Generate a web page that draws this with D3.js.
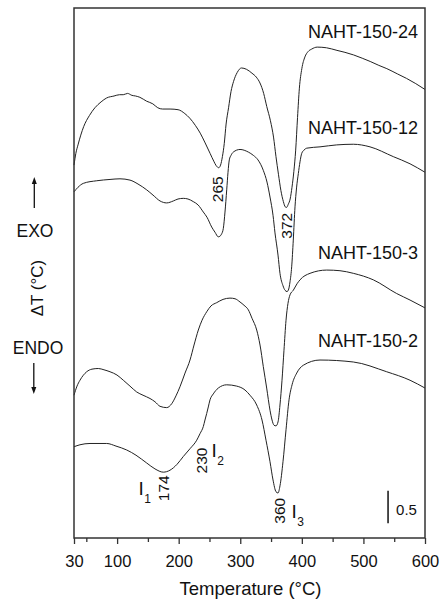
<!DOCTYPE html>
<html>
<head>
<meta charset="utf-8">
<script src="https://cdn.jsdelivr.net/npm/d3@7"></script>
<style>
  body { margin: 0; background: #fff; }
  text { font-family: "Liberation Sans", Arial, sans-serif; fill: #111; }
</style>
</head>
<body>
<div id="chart"></div>
<script>
// DTA curves, values (stacked, arbitrary offset, 1 unit = 1 °C)
const temps24 = [30,33,36.5,41,45.7,55,64,74,83,95,104,110,117,124,130,137,148,158,166,174,186,199,210,218,227,235,243,251,257,261,265,268,271,274,277,281,285,289,295,302,310,319,326,332,338,343,349,354,358,362,366,370,373,375,378,381,384,387,390,393,396,400,405,410,416,425,440,457,470,484,498,511,525,538,555,570,585,600];
const vals24  = [5.72,5.90,6.03,6.18,6.31,6.48,6.60,6.69,6.75,6.78,6.80,6.80,6.82,6.79,6.78,6.76,6.70,6.66,6.60,6.58,6.58,6.57,6.51,6.44,6.33,6.21,6.06,5.90,5.78,5.71,5.68,5.72,5.85,6.05,6.35,6.60,6.85,7.00,7.14,7.21,7.19,7.13,7.07,6.98,6.82,6.62,6.40,6.15,5.85,5.58,5.33,5.16,5.08,5.07,5.12,5.20,5.38,5.62,5.95,6.45,6.90,7.20,7.38,7.46,7.50,7.53,7.52,7.48,7.45,7.41,7.36,7.31,7.25,7.20,7.12,7.05,6.97,6.88];

const temps12 = [30,36.5,45.1,66.9,88.5,104.7,120.9,133.9,148.1,158.3,169.7,180.5,191.3,198.9,207.5,215.1,223.7,231.4,240,246,253.6,259,264.3,267.1,269.5,272.5,275.2,278,280.1,282.2,285,288.7,299.6,313.1,321.2,328.8,337.4,343.4,348.3,353.2,356.4,361.3,364.5,369.4,372.7,375.9,378,380.8,383.5,386.1,388.9,391.4,394.3,397,399.8,403.5,407.9,429.5,456.6,483.6,510.7,548.5,575.7,600];
const vals12  = [5.31,5.38,5.44,5.48,5.50,5.51,5.49,5.43,5.34,5.26,5.17,5.14,5.17,5.20,5.21,5.20,5.16,5.11,5.00,4.92,4.77,4.69,4.62,4.63,4.66,4.75,5.00,5.34,5.61,5.80,5.87,5.92,5.96,5.92,5.87,5.80,5.64,5.46,5.23,4.95,4.68,4.34,4.06,3.87,3.80,3.78,3.80,3.93,4.16,4.57,5.08,5.37,5.59,5.77,5.90,5.95,5.98,6.00,6.03,6.04,6.00,5.85,5.74,5.61];

const temps3 = [30,34.9,39.7,50.6,59.2,69.5,78.7,88.5,99.8,110.1,120.9,131.8,142.1,153.4,161.5,169.7,180.5,188.7,195.6,202.1,210.3,218.4,224.9,231.9,237.9,245.5,252.5,261.7,272,283.3,291.5,299.6,306.1,313.1,319.1,326.7,332.1,337.4,342.9,348.3,351.6,354.8,358,361.3,364.5,367.8,371,374.3,377.5,380.8,386.1,392.2,397,413.3,440.4,461.9,483.6,516.1,554,575.7,600];
const vals3  = [2.19,2.33,2.42,2.55,2.59,2.60,2.58,2.55,2.50,2.42,2.33,2.24,2.19,2.14,2.09,2.02,2.00,2.06,2.18,2.32,2.53,2.73,2.96,3.19,3.34,3.47,3.56,3.61,3.66,3.68,3.67,3.62,3.57,3.50,3.37,3.19,2.96,2.63,2.30,1.96,1.81,1.73,1.72,1.78,2.04,2.42,2.88,3.34,3.60,3.73,3.80,3.90,3.96,4.06,4.11,4.10,4.06,3.96,3.75,3.65,3.53];

const temps2 = [30,39.7,56,83.1,98.2,115.6,130.7,148.1,161.5,175,185.9,197.3,207.5,218.4,229.3,234.6,240,242.7,245.5,248.1,250.9,256.2,264.3,278,294.2,307.7,315.8,326.7,335.3,341.8,348.3,353.2,358,361.3,364.5,369.4,374.3,379.2,384.1,391.7,402.4,429.5,483.6,537.8,575.7,600];
const vals2  = [1.40,1.43,1.45,1.45,1.41,1.35,1.27,1.15,1.06,1.01,1.04,1.13,1.25,1.37,1.50,1.60,1.71,1.81,1.91,2.01,2.12,2.21,2.30,2.35,2.33,2.27,2.19,2.04,1.81,1.50,1.17,0.89,0.71,0.69,0.80,1.17,1.66,2.12,2.35,2.53,2.65,2.73,2.70,2.55,2.42,2.30];

const sampleNames = ["NAHT-150-24", "NAHT-150-12", "NAHT-150-3", "NAHT-150-2"];
const majorTicks = [30, 100, 200, 300, 400, 500, 600];
const minorTicks = [50, 150, 250, 350, 450, 550];
const peakLabels = ["265", "372", "174", "230", "360"];
const scaleBarValue = 0.5;

const W = 441, H = 599;
const margin = {top: 8, right: 16, bottom: 61, left: 74};
const width = W - margin.left - margin.right;
const height = H - margin.top - margin.bottom;

const svg = d3.select("#chart").append("svg")
  .attr("width", W).attr("height", H);
const g = svg.append("g")
  .attr("transform", "translate(" + margin.left + "," + margin.top + ")");

const x = d3.scaleLinear().domain([30, 600]).range([0, width]);
const y = d3.scaleLinear().domain([0, 8.13]).range([height, 0]);

// curves
const line = d3.line()
  .x(d => x(d[0]))
  .y(d => y(d[1]))
  .curve(d3.curveMonotoneX);

const curves = [
  d3.zip(temps24, vals24),
  d3.zip(temps12, vals12),
  d3.zip(temps3, vals3),
  d3.zip(temps2, vals2)
];
g.selectAll("path.curve")
  .data(curves)
  .enter()
  .append("path")
  .attr("class", "curve")
  .attr("d", line)
  .attr("fill", "none")
  .attr("stroke", "#222")
  .attr("stroke-width", 1);

// frame
g.append("rect")
  .attr("width", width).attr("height", height)
  .attr("fill", "none").attr("stroke", "#333").attr("stroke-width", 1.5);

// x axis
const xAxis = g.append("g")
  .attr("transform", "translate(0," + height + ")")
  .call(d3.axisBottom(x).tickValues(majorTicks).tickSize(6).tickFormat(d3.format("d")));
xAxis.select(".domain").remove();
xAxis.selectAll(".tick line").attr("stroke", "#333").attr("stroke-width", 1.3);
xAxis.selectAll("text")
  .attr("y", 17)
  .style("font-size", "16.5px")
  .style("font-family", "'Liberation Sans', Arial, sans-serif")
  .attr("fill", "#111");

const xMinor = g.append("g")
  .attr("transform", "translate(0," + height + ")")
  .call(d3.axisBottom(x).tickValues(minorTicks).tickSize(4).tickFormat(""));
xMinor.select(".domain").remove();
xMinor.selectAll(".tick line").attr("stroke", "#333").attr("stroke-width", 1.3);

svg.append("text")
  .attr("x", margin.left + width / 2 + 1).attr("y", 595)
  .attr("text-anchor", "middle")
  .style("font-size", "18.5px")
  .text("Temperature (°C)");

// y label, EXO / ENDO
svg.append("text")
  .attr("transform", "translate(43,288) rotate(-90)")
  .attr("text-anchor", "middle")
  .style("font-size", "17px")
  .text("ΔT (°C)");
svg.append("text").attr("x", 35).attr("y", 237)
  .attr("text-anchor", "middle").style("font-size", "17.5px").text("EXO");
svg.append("text").attr("x", 38).attr("y", 354)
  .attr("text-anchor", "middle").style("font-size", "17.5px").text("ENDO");

function arrow(x0, yFrom, yTo) {
  const dir = yTo < yFrom ? -1 : 1;
  svg.append("line")
    .attr("x1", x0).attr("x2", x0)
    .attr("y1", yFrom).attr("y2", yTo - dir * 5)
    .attr("stroke", "#111").attr("stroke-width", 1.3);
  svg.append("path")
    .attr("d", "M" + (x0 - 2.5) + "," + (yTo - dir * 7) + "L" + x0 + "," + yTo + "L" + (x0 + 2.5) + "," + (yTo - dir * 7) + "Z")
    .attr("fill", "#111");
}
arrow(34.3, 208, 177);
arrow(33.8, 363, 394);

// sample names
const nameBaselines = [38.3, 134.3, 259.3, 346.7];
svg.selectAll("text.name")
  .data(sampleNames)
  .enter()
  .append("text")
  .attr("class", "name")
  .attr("x", 418)
  .attr("y", (d, i) => nameBaselines[i])
  .attr("text-anchor", "end")
  .style("font-size", "18px")
  .text(d => d);

// peak temperatures (rotated)
const peakPos = [[223.3, 189.2], [291.7, 225.8], [169.3, 488.3], [206.7, 460.5], [285, 510.8]];
svg.selectAll("text.peak")
  .data(peakLabels)
  .enter()
  .append("text")
  .attr("class", "peak")
  .attr("transform", (d, i) => "translate(" + peakPos[i][0] + "," + peakPos[i][1] + ") rotate(-90)")
  .attr("text-anchor", "middle")
  .style("font-size", "15.5px")
  .text(d => d);

// I1, I2, I3 markers
const iLabels = [["1", 138.5, 495], ["2", 211.5, 456.7], ["3", 291.5, 518.3]];
iLabels.forEach(function(d) {
  const t = svg.append("text").attr("x", d[1]).attr("y", d[2]).style("font-size", "19px");
  t.append("tspan").text("I");
  t.append("tspan").attr("dx", 0.5).attr("dy", 8).style("font-size", "12px").text(d[0]);
});

// scale bar
const barBase = 0.225;
g.append("line")
  .attr("x1", x(540)).attr("x2", x(540))
  .attr("y1", y(barBase)).attr("y2", y(barBase + scaleBarValue))
  .attr("stroke", "#111").attr("stroke-width", 1.5);
g.append("text")
  .attr("x", x(540) + 8).attr("y", y(barBase) - 8)
  .style("font-size", "15px")
  .text(scaleBarValue);
</script>
</body>
</html>
